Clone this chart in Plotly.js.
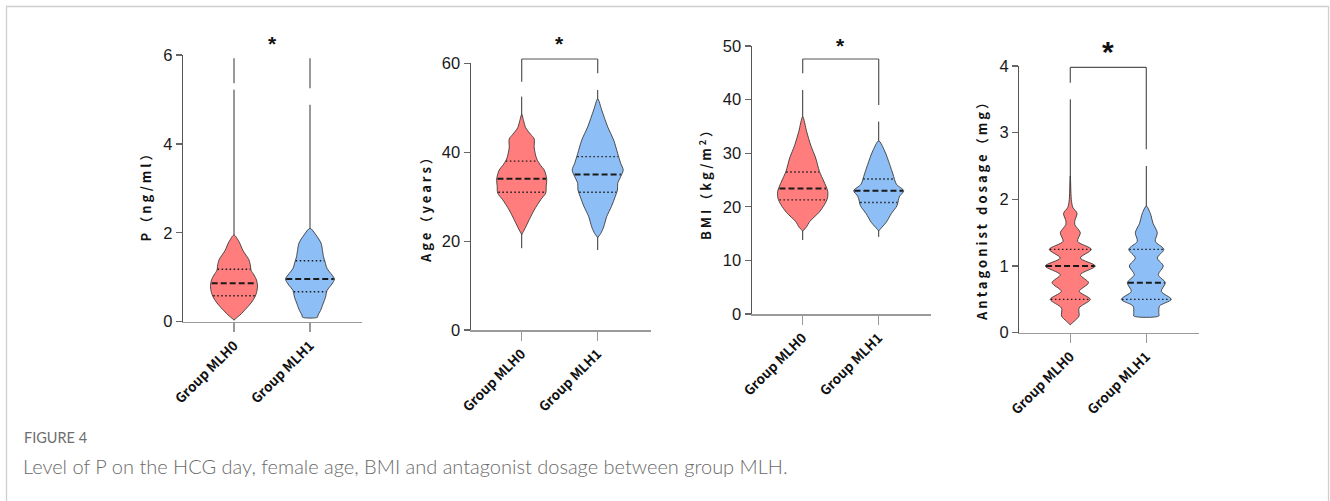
<!DOCTYPE html>
<html><head><meta charset="utf-8">
<script src="https://cdn.plot.ly/plotly-3.0.1.min.js"></script>
<style>html,body{margin:0;padding:0;background:#fff;} #chart{width:1330px;height:501px;}</style>
</head><body><div id="chart"></div>
<script>
// ---------------- DATA ----------------
const categories = ['Group MLH0', 'Group MLH1'];
const yTitles = ['P（ng/ml）', 'Age（years）', 'BMI（kg/m<sup>2</sup>）', 'Antagonist dosage（mg）'];
const sigLabel = '*';
const yTickVals = [[0, 2, 4, 6], [0, 20, 40, 60], [0, 10, 20, 30, 40, 50], [0, 1, 2, 3, 4]];
const yMax = [6, 60, 50, 4];

// P (ng/ml)
const pRedLevels = [1.95, 1.8, 1.6, 1.39, 1.25, 1.16, 1.05, 0.94, 0.79, 0.65, 0.56, 0.45, 0.34, 0.22, 0.15, 0.04];
const pRedDensity = [0, 0.2, 0.36, 0.6, 0.66, 0.68, 0.8, 0.9, 0.94, 0.9, 0.84, 0.72, 0.56, 0.36, 0.24, 0];
const pBlueLevels = [2.1, 1.95, 1.77, 1.6, 1.46, 1.35, 1.2, 1.05, 0.96, 0.85, 0.7, 0.55, 0.4, 0.25, 0.15, 0.1];
const pBlueDensity = [0, 0.24, 0.44, 0.5, 0.54, 0.6, 0.68, 0.88, 0.98, 0.88, 0.68, 0.62, 0.52, 0.42, 0.32, 0.3];
const pRedMinMax = [0.03, 5.22];
const pBlueMinMax = [0.1, 4.88];
const pRedQuartiles = [0.585, 0.865, 1.18];
const pBlueQuartiles = [0.675, 0.96, 1.37];

// Age (years)
const ageRedLevels = [48.5, 47, 45.5, 44, 43, 41, 38.5, 37, 36, 34, 32.3, 30.8, 29.3, 27, 24.8, 22.5, 21.5];
const ageRedDensity = [0, 0.08, 0.16, 0.36, 0.5, 0.5, 0.6, 0.76, 0.9, 1, 0.98, 0.96, 0.76, 0.5, 0.3, 0.1, 0];
const ageBlueLevels = [52, 49.5, 45.7, 42.7, 39.7, 37.5, 36, 34.5, 33, 31.5, 30, 27.8, 25.5, 23.2, 21.7, 20.8];
const ageBlueDensity = [0, 0.16, 0.4, 0.64, 0.8, 0.92, 1.02, 0.92, 0.8, 0.79, 0.7, 0.55, 0.36, 0.24, 0.12, 0];
const ageRedMinMax = [18.4, 52.5];
const ageBlueMinMax = [18, 54];
const ageRedQuartiles = [31, 34, 38];
const ageBlueQuartiles = [31, 35, 39];

// BMI (kg/m2)
const bmiRedLevels = [36.8, 34, 31.5, 29.1, 26.6, 24.8, 22.9, 21.6, 20.4, 18.9, 17.3, 16.1, 15.5];
const bmiRedDensity = [0, 0.16, 0.32, 0.52, 0.67, 0.84, 1, 0.99, 0.87, 0.64, 0.29, 0.13, 0];
const bmiBlueLevels = [32.3, 30.4, 27.9, 26.1, 24.2, 23.0, 22.0, 21.5, 20.2, 18.7, 17.1, 16.2, 15.5];
const bmiBlueDensity = [0, 0.24, 0.44, 0.57, 0.71, 1, 0.84, 0.8, 0.73, 0.5, 0.3, 0.13, 0];
const bmiRedMinMax = [13.8, 41.8];
const bmiBlueMinMax = [14.4, 35.9];
const bmiRedQuartiles = [21.3, 23.4, 26.5];
const bmiBlueQuartiles = [20.8, 23.0, 25.2];

// Antagonist dosage (mg)
const antRedLevels = [2.35, 2.0, 1.88, 1.79, 1.68, 1.62, 1.5, 1.37, 1.25, 1.12, 1.0, 0.87, 0.75, 0.62, 0.5, 0.37, 0.25, 0.17, 0.12];
const antRedDensity = [0, 0.04, 0.1, 0.27, 0.18, 0.18, 0.4, 0.29, 0.84, 0.4, 1, 0.4, 0.73, 0.36, 0.8, 0.35, 0.35, 0.15, 0];
const antBlueLevels = [1.9, 1.79, 1.64, 1.5, 1.37, 1.25, 1.12, 1.0, 0.87, 0.75, 0.62, 0.5, 0.4, 0.3, 0.25];
const antBlueDensity = [0, 0.16, 0.27, 0.44, 0.36, 0.7, 0.44, 0.68, 0.48, 0.76, 0.6, 1, 0.53, 0.5, 0.5];
const antRedMinMax = [0.12, 3.5];
const antBlueMinMax = [0.25, 2.5];
const antRedQuartiles = [0.5, 1.0, 1.25];
const antBlueQuartiles = [0.5, 0.75, 1.25];

// ---------------- LAYOUT CONSTANTS ----------------
const W = 1330, H = 501;
const px = x => x / W;
const py = y => 1 - y / H;
// pixel boxes of each panel: [left, right, top, bottom]
const boxes = [
  [183, 362, 55, 321.7],
  [470.7, 651, 63.3, 330],
  [751.7, 931, 46, 314],
  [1019.3, 1199, 66, 332.7]
];
const catStep = 76;         // px between the two categories
const firstCatOffset = 51;  // px from y-axis to first category
const halfWidthScale = 25 / catStep; // density 1 -> 25px half-width
const RED = 'rgb(255,125,125)', BLUE = 'rgb(142,190,246)';
const OUTLINE = '#3a3a3a';

const panels = [
  {red: [pRedLevels, pRedDensity, pRedMinMax, pRedQuartiles], blue: [pBlueLevels, pBlueDensity, pBlueMinMax, pBlueQuartiles]},
  {red: [ageRedLevels, ageRedDensity, ageRedMinMax, ageRedQuartiles], blue: [ageBlueLevels, ageBlueDensity, ageBlueMinMax, ageBlueQuartiles]},
  {red: [bmiRedLevels, bmiRedDensity, bmiRedMinMax, bmiRedQuartiles], blue: [bmiBlueLevels, bmiBlueDensity, bmiBlueMinMax, bmiBlueQuartiles]},
  {red: [antRedLevels, antRedDensity, antRedMinMax, antRedQuartiles], blue: [antBlueLevels, antBlueDensity, antBlueMinMax, antBlueQuartiles]}
];

// brackets in px: [topY, leftLegBottom, rightLegBottom, drawTop]
const brackets = [
  [58.3, 83.3, 88.3, false],
  [59, 81.7, 73.3, true],
  [59, 73.3, 105, true],
  [67.3, 82.7, 149.3, true]
];
const starY = [44, 44, 45, 51.7];
const starSize = [21, 21, 21, 30];
const titlePos = [[145, 193.5], [425, 206], [705, 181], [981, 207.5]];

function interpWidth(levels, dens, q) {
  for (let i = 0; i < levels.length - 1; i++) {
    const a = levels[i], b = levels[i + 1];
    if ((q <= a && q >= b)) {
      const t = (a - q) / (a - b);
      return dens[i] + t * (dens[i + 1] - dens[i]);
    }
  }
  return 0;
}

const traces = [];
const layout = {
  width: W, height: H,
  margin: {l: 0, r: 0, t: 0, b: 0},
  paper_bgcolor: '#fff', plot_bgcolor: 'rgba(0,0,0,0)',
  showlegend: false,
  shapes: [], annotations: []
};

panels.forEach((p, k) => {
  const n = k === 0 ? '' : String(k + 1);
  const xa = 'x' + n, ya = 'y' + n;
  const [l, r, t, b] = boxes[k];
  const x0 = -firstCatOffset / catStep;
  const x1 = x0 + (r - l) / catStep;
  layout['xaxis' + n] = {
    domain: [px(l), px(r)], range: [x0, x1], anchor: ya,
    tickvals: [0, 1], ticktext: categories, tickangle: -45,
    ticks: 'outside', ticklen: 9, tickwidth: 1.3, tickcolor: '#999',
    showline: true, linecolor: '#9a9a9a', linewidth: 1.6,
    showgrid: false, zeroline: false,
    tickfont: {family: 'Noto Sans CJK SC', size: 13.5, color: '#111', weight: 'bold'}
  };
  layout['yaxis' + n] = {
    domain: [py(b), py(t)], range: [0, yMax[k]], anchor: xa,
    tickvals: yTickVals[k], ticks: 'outside', ticklen: 6, tickwidth: 1.2, tickcolor: '#666',
    showline: true, linecolor: '#555', linewidth: 1.2,
    showgrid: false, zeroline: false,
    tickfont: {family: 'Liberation Sans', size: 16.5, color: '#1a1a1a'}
  };

  [['red', 0, RED], ['blue', 1, BLUE]].forEach(([key, cx, col]) => {
    const [levels, dens, mm, qs] = p[key];
    // whisker / tail line
    traces.push({type: 'scatter', mode: 'lines', xaxis: xa, yaxis: ya,
      x: [cx, cx], y: [mm[0], mm[1]], line: {color: '#333', width: 1}, hoverinfo: 'skip'});
    // violin body
    const xs = [], ys = [];
    levels.forEach((v, i) => { xs.push(cx + dens[i] * halfWidthScale); ys.push(v); });
    for (let i = levels.length - 1; i >= 0; i--) { xs.push(cx - dens[i] * halfWidthScale); ys.push(levels[i]); }
    traces.push({type: 'scatter', mode: 'lines', xaxis: xa, yaxis: ya, x: xs, y: ys,
      fill: 'toself', fillcolor: col, line: {color: OUTLINE, width: 0.9, shape: 'spline', smoothing: 0.8}, hoverinfo: 'skip'});
    // quartile lines
    qs.forEach((q, j) => {
      const w = interpWidth(levels, dens, q) * halfWidthScale * 0.97;
      traces.push({type: 'scatter', mode: 'lines', xaxis: xa, yaxis: ya,
        x: [cx - w, cx + w], y: [q, q],
        line: {color: '#1a1a1a', width: j === 1 ? 2 : 1.4, dash: j === 1 ? '6px,3px' : '1.5px,2.5px'}, hoverinfo: 'skip'});
    });
  });

  // significance bracket
  const [bt, bl, br, drawTop] = brackets[k];
  const sh = {xref: xa, yref: 'paper', type: 'line', line: {color: '#555', width: 1.2}};
  layout.shapes.push(Object.assign({}, sh, {x0: 0, x1: 0, y0: py(bt), y1: py(bl)}));
  layout.shapes.push(Object.assign({}, sh, {x0: 1, x1: 1, y0: py(bt), y1: py(br)}));
  if (drawTop) layout.shapes.push(Object.assign({}, sh, {x0: 0, x1: 1, y0: py(bt), y1: py(bt)}));
  layout.annotations.push({xref: xa, yref: 'paper', x: 0.5, y: py(starY[k]), text: sigLabel,
    showarrow: false, xanchor: 'center', yanchor: 'middle',
    font: {family: 'Liberation Sans', size: starSize[k], color: '#111', weight: 'bold'}});
  // y title
  layout.annotations.push({xref: 'paper', yref: 'paper', x: px(titlePos[k][0]), y: py(titlePos[k][1]),
    text: yTitles[k], textangle: -90, showarrow: false, xanchor: 'center', yanchor: 'middle',
    font: {family: 'Noto Sans CJK SC', size: 13, color: '#111', weight: 'bold'}});
});

// frame
layout.shapes.push({type: 'path', xref: 'paper', yref: 'paper',
  path: `M ${px(6.5)} ${py(501)} L ${px(6.5)} ${py(6.5)} L ${px(1328.5)} ${py(6.5)} L ${px(1328.5)} ${py(501)}`,
  line: {color: '#cfcfcf', width: 1.3}});

// caption
layout.annotations.push({xref: 'paper', yref: 'paper', x: px(22), y: py(437), xanchor: 'left', yanchor: 'middle',
  text: 'FIGURE 4', showarrow: false, font: {family: 'Lato', size: 14.5, color: '#6e6e6e'}});
layout.annotations.push({xref: 'paper', yref: 'paper', x: px(21), y: py(466), xanchor: 'left', yanchor: 'middle',
  text: 'Level of P on the HCG day, female age, BMI and antagonist dosage between group MLH.', showarrow: false,
  font: {family: 'Lato', size: 20, color: '#6a6a6a', weight: 300}});

Plotly.newPlot('chart', traces, layout, {staticPlot: true, displayModeBar: false}).then(() => {
  document.querySelectorAll('.annotation-text').forEach(el => {
    if (el.textContent.indexOf('（') >= 0) el.style.letterSpacing = '3px';
  });
});
</script>
</body></html>
